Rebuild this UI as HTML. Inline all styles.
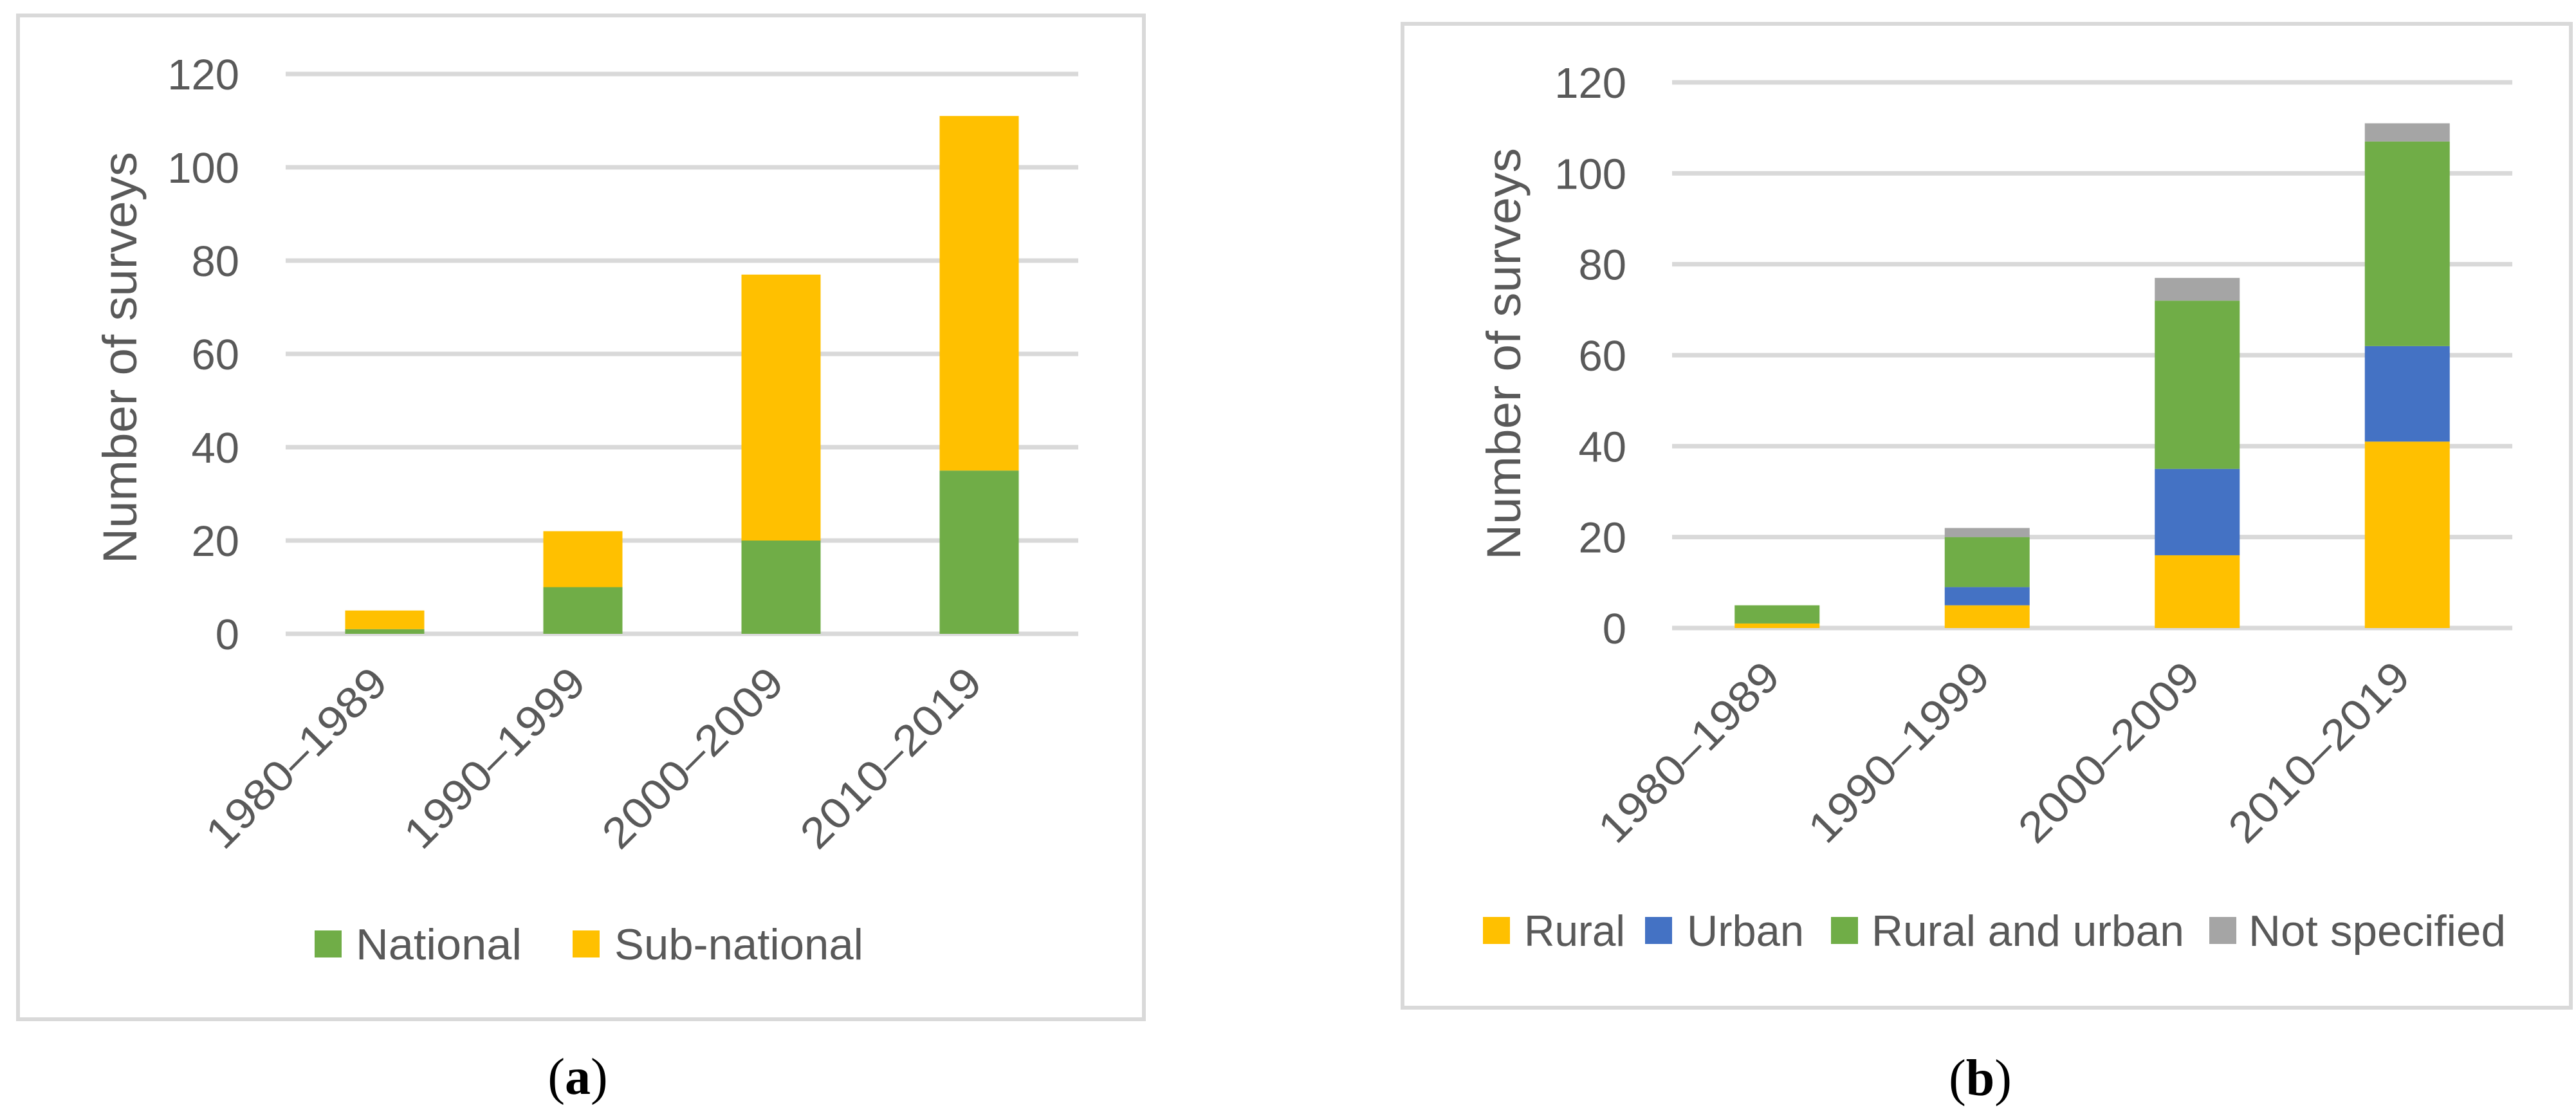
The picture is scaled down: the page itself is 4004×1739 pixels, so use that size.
<!DOCTYPE html>
<html><head><meta charset="utf-8">
<style>
html,body{margin:0;padding:0;background:#fff;}
svg{display:block;}
text{font-family:"Liberation Sans",sans-serif;fill:#595959;}
</style></head>
<body>
<svg id="chart" width="4004" height="1739" viewBox="0 0 4004 1739" xmlns="http://www.w3.org/2000/svg">
<rect x="0" y="0" width="4004" height="1739" fill="#fff"/>
<rect x="28" y="24" width="1750" height="1560" fill="none" stroke="#D9D9D9" stroke-width="6"/>
<rect x="2180" y="37" width="1816" height="1529" fill="none" stroke="#D9D9D9" stroke-width="6"/>
<text x="898" y="1700" text-anchor="middle" style="font-family:'Liberation Serif',serif;font-size:80px;fill:#000">(<tspan font-weight="bold">a</tspan>)</text>
<text x="3078" y="1702" text-anchor="middle" style="font-family:'Liberation Serif',serif;font-size:80px;fill:#000">(<tspan font-weight="bold">b</tspan>)</text>
</svg>
<script>
const categories = ["1980–1989","1990–1999","2000–2009","2010–2019"];
const yTicks = [0,20,40,60,80,100,120];
const nationalValues = [1,10,20,35];
const subNationalValues = [4,12,57,76];
const ruralValues = [1,5,16,41];
const urbanValues = [0,4,19,21];
const ruralUrbanValues = [4,11,37,45];
const notSpecifiedValues = [0,2,5,4];
const yMax = 120;

const NS = "http://www.w3.org/2000/svg";
const svg = document.getElementById('chart');
function mk(tag, attrs, parent){
  const e = document.createElementNS(NS, tag);
  for (const k in attrs) e.setAttribute(k, attrs[k]);
  (parent||svg).appendChild(e);
  return e;
}

function drawPanel(p){
  const g = mk('g', {});
  
  
  const yScale = v => p.y0 - (v / yMax) * (p.y0 - p.y120);
  const step = (p.x1 - p.x0) / categories.length;
  yTicks.forEach(t => {
    const y = yScale(t);
    const l = mk('line', {x1:p.x0, x2:p.x1, y1:y, y2:y, stroke:'#D9D9D9', 'stroke-width':7}, g);
    
    
    const tx = mk('text', {x:p.tickX, y:y+24, 'text-anchor':'end', 'font-size':67}, g);
    tx.textContent = t;
    
    
  });
  categories.forEach((c, i) => {
    const cx = p.x0 + step * (i + 0.5);
    let acc = 0;
    p.series.forEach(s => {
      const v = s.values[i];
      const yTop = yScale(acc + v), yBot = yScale(acc);
      acc += v;
      if (v <= 0) return;
      const r = mk('rect', {x:cx - p.barW/2, y:yTop, width:p.barW, height:yBot - yTop, fill:s.color}, g);
      
      
    });
    const lx = cx + 8, ly = p.y0 + 80;
    const lab = mk('text', {x:lx, y:ly, 'text-anchor':'end', 'font-size':67, transform:'rotate(-45 ' + lx + ' ' + ly + ')', textLength:365, lengthAdjust:'spacingAndGlyphs'}, g);
    lab.textContent = c;
    
    
  });
  const yt = mk('text', {x:p.titleX, y:p.titleY, 'text-anchor':'middle', 'font-size':74, transform:'rotate(-90 ' + p.titleX + ' ' + p.titleY + ')', textLength:640, lengthAdjust:'spacingAndGlyphs'}, g);
  yt.textContent = 'Number of surveys';
  
  
  p.legend.forEach((L, i) => {
    const s = p.series[L.idx];
    const sq = mk('rect', {x:L.sx, y:p.legY - 21, width:42, height:42, fill:s.color}, g);
    
    
    const t = mk('text', {x:L.tx, y:p.legY + 24, 'font-size':68, textLength:L.tw, lengthAdjust:'spacingAndGlyphs'}, g);
    t.textContent = s.name;
    
    
  });
}

drawPanel({
  id:'panel-a', x0:444, x1:1676, y0:985, y120:115, tickX:372, barW:123,
  titleX:212, titleY:556, legY:1467,
  series:[
    {key:'national', name:'National', color:'#70AD47', values:nationalValues},
    {key:'sub-national', name:'Sub-national', color:'#FFC000', values:subNationalValues}
  ],
  legend:[{idx:0, sx:489, tx:553, tw:258},{idx:1, sx:890, tx:955, tw:387}]
});
drawPanel({
  id:'panel-b', x0:2599, x1:3905, y0:976, y120:128, tickX:2528, barW:132,
  titleX:2363, titleY:550, legY:1446,
  series:[
    {key:'rural', name:'Rural', color:'#FFC000', values:ruralValues},
    {key:'urban', name:'Urban', color:'#4472C4', values:urbanValues},
    {key:'rural-and-urban', name:'Rural and urban', color:'#70AD47', values:ruralUrbanValues},
    {key:'not-specified', name:'Not specified', color:'#A5A5A5', values:notSpecifiedValues}
  ],
  legend:[{idx:0, sx:2305, tx:2369, tw:157},{idx:1, sx:2557, tx:2622, tw:182},{idx:2, sx:2846, tx:2909, tw:486},{idx:3, sx:3434, tx:3495, tw:400}]
});
</script>
</body></html>
